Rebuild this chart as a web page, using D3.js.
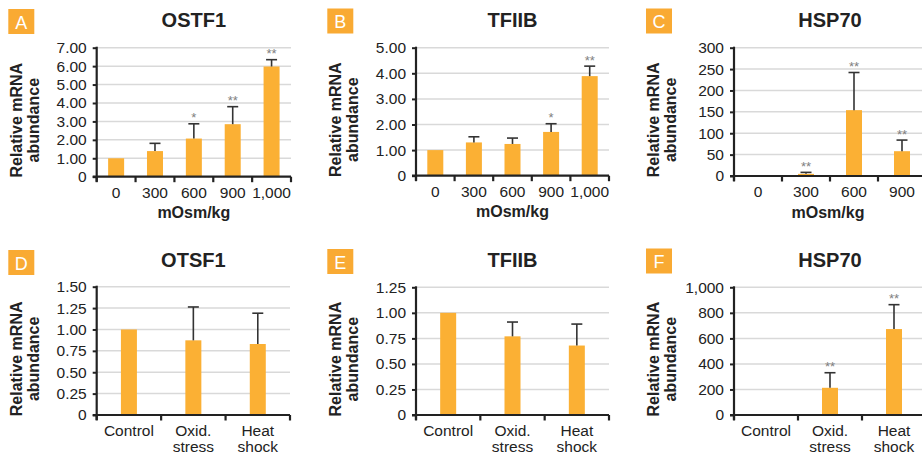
<!DOCTYPE html>
<html><head><meta charset="utf-8">
<script src="https://cdn.jsdelivr.net/npm/d3@7"></script>
<style>
body{margin:0;background:#fff;}
text{font-family:"Liberation Sans",Arial,sans-serif;}
</style></head>
<body><svg id="c" width="922" height="456"></svg>
<script>
// ---- data ----
const osmCats = ["0","300","600","900","1,000"];
const osmCatsC = ["0","300","600","900"];
const stressCats = [["Control"],["Oxid.","stress"],["Heat","shock"]];

const aValues = [1.00, 1.39, 2.07, 2.85, 5.98];
const aErrors = [0, 0.42, 0.80, 0.95, 0.37];
const aStars  = ["", "", "*", "**", "**"];

const bValues = [1.00, 1.30, 1.24, 1.71, 3.89];
const bErrors = [0, 0.22, 0.23, 0.32, 0.39];
const bStars  = ["", "", "", "*", "**"];

const cValues = [1, 5, 154, 58];
const cErrors = [0, 3.5, 88, 26];
const cStars  = ["", "**", "**", "**"];

const dValues = [1.00, 0.873, 0.83];
const dErrors = [0, 0.39, 0.36];
const dStars  = ["", "", ""];

const eValues = [1.00, 0.77, 0.68];
const eErrors = [0, 0.14, 0.21];
const eStars  = ["", "", ""];

const fValues = [1, 213, 673];
const fErrors = [0, 118, 191];
const fStars  = ["", "**", "**"];

const aTicks = [0,1,2,3,4,5,6,7];
const bTicks = [0,1,2,3,4,5];
const cTicks = [0,50,100,150,200,250,300];
const dTicks = [0,0.25,0.5,0.75,1.0,1.25,1.5];
const eTicks = [0,0.25,0.5,0.75,1.0,1.25];
const fTicks = [0,200,400,600,800,1000];

const panels = [
  {letter:"A", title:"OSTF1", cats:osmCats, vals:aValues, errs:aErrors, stars:aStars, ticks:aTicks, fmt:v=>v===0?"0":d3.format(".2f")(v), xl:"mOsm/kg", x0:96.7, x1:291, y0:176.7, y1:47.7, box:[8.3,9]},
  {letter:"B", title:"TFIIB", cats:osmCats, vals:bValues, errs:bErrors, stars:bStars, ticks:bTicks, fmt:v=>v===0?"0":d3.format(".2f")(v), xl:"mOsm/kg", x0:416, x1:609, y0:175.7, y1:47.7, box:[327.3,8.5]},
  {letter:"C", title:"HSP70", cats:osmCatsC, vals:cValues, errs:cErrors, stars:cStars, ticks:cTicks, fmt:d3.format("d"), xl:"mOsm/kg", x0:734, x1:926, y0:176, y1:47.7, box:[646,8.5]},
  {letter:"D", title:"OTSF1", cats:stressCats, vals:dValues, errs:dErrors, stars:dStars, ticks:dTicks, fmt:v=>v===0?"0":d3.format(".2f")(v), xl:null, x0:96.7, x1:290, y0:415, y1:286.7, box:[8.3,250]},
  {letter:"E", title:"TFIIB", cats:stressCats, vals:eValues, errs:eErrors, stars:eStars, ticks:eTicks, fmt:v=>v===0?"0":d3.format(".2f")(v), xl:null, x0:416, x1:609, y0:415, y1:287.3, box:[327.3,249]},
  {letter:"F", title:"HSP70", cats:stressCats, vals:fValues, errs:fErrors, stars:fStars, ticks:fTicks, fmt:d3.format(","), xl:null, x0:734, x1:926, y0:415, y1:287.3, box:[646,248.5]}
];

const svg = d3.select("#c");
const BAR = "#FBB034", BOX = "#F9AA33", INK = "#222";

panels.forEach(p => {
  const g = svg.append("g");
  const keys = p.cats.map((c,i)=>i);
  const x = d3.scaleBand().domain(keys).range([p.x0, p.x1]).padding(0);
  const y = d3.scaleLinear().domain([0, d3.max(p.ticks)]).range([p.y0, p.y1]);

  // grid
  g.selectAll("line.grid").data(p.ticks.filter(t=>t>0)).join("line")
    .attr("x1", p.x0).attr("x2", p.x1).attr("y1", d=>y(d)).attr("y2", d=>y(d))
    .attr("stroke", "#d9d9d9").attr("stroke-width", 1.5);

  // bars
  const bw = 16;
  g.selectAll("rect.bar").data(p.vals).join("rect")
    .attr("x", (d,i)=>x(i)+x.bandwidth()/2-bw/2).attr("width", bw)
    .attr("y", d=>y(d)).attr("height", d=>p.y0-y(d))
    .attr("fill", BAR);

  // error bars
  p.vals.forEach((v,i)=>{
    const e = p.errs[i];
    if (!e) return;
    const cx = x(i)+x.bandwidth()/2;
    g.append("line").attr("x1",cx).attr("x2",cx).attr("y1",y(v)).attr("y2",y(v+e))
      .attr("stroke","#333").attr("stroke-width",1.6);
    g.append("line").attr("x1",cx-5.5).attr("x2",cx+5.5).attr("y1",y(v+e)).attr("y2",y(v+e))
      .attr("stroke","#333").attr("stroke-width",1.6);
    if (p.stars[i]) {
      g.append("text").attr("x",cx).attr("y",y(v+e)-1.5).attr("text-anchor","middle")
        .attr("font-size",13).attr("fill","#808080").text(p.stars[i]);
    }
  });

  // y axis
  const ya = d3.axisLeft(y).tickValues(p.ticks).tickFormat(p.fmt).tickSize(4).tickPadding(6);
  const yg = g.append("g").attr("transform",`translate(${p.x0},0)`).call(ya);
  yg.select(".domain").remove();
  yg.selectAll(".tick line").attr("stroke",INK).attr("stroke-width",2);
  yg.selectAll(".tick text").attr("font-size",15.5).attr("fill",INK)
    .attr("font-family",'"Liberation Sans",Arial,sans-serif');
  g.append("line").attr("x1",p.x0).attr("x2",p.x0).attr("y1",p.y1-1).attr("y2",p.y0+5)
    .attr("stroke",INK).attr("stroke-width",2.2);

  // x axis
  g.append("line").attr("x1",p.x0-4).attr("x2",p.x1).attr("y1",p.y0).attr("y2",p.y0)
    .attr("stroke",INK).attr("stroke-width",2.2);
  const bounds = keys.map(i=>x(i)+x.bandwidth()).concat([p.x0]);
  g.selectAll("line.xt").data(bounds).join("line")
    .attr("x1",d=>d).attr("x2",d=>d).attr("y1",p.y0).attr("y2",p.y0+5.5)
    .attr("stroke",INK).attr("stroke-width",2.2);

  // category labels
  p.cats.forEach((c,i)=>{
    const cx = x(i)+x.bandwidth()/2;
    const lines = Array.isArray(c) ? c : [c];
    const t = g.append("text").attr("x",cx).attr("y",p.y0+21).attr("text-anchor","middle")
      .attr("font-size",15.5).attr("fill",INK);
    lines.forEach((l,k)=>t.append("tspan").attr("x",cx).attr("dy",k?16:0).text(l));
  });

  // x axis title
  if (p.xl) {
    g.append("text").attr("x",(p.x0+Math.min(p.x1,922))/2 + (p.letter==="C"?0:0)).attr("y",p.y0+41.5)
      .attr("text-anchor","middle").attr("font-size",16).attr("font-weight","bold").attr("fill",INK)
      .text(p.xl);
  }

  // y axis title
  const cy = (p.y0+p.y1)/2 + 8;
  [["Relative mRNA", p.x0-75],["abundance", p.x0-58]].forEach(([txt,bx])=>{
    g.append("text").attr("transform",`translate(${bx},${cy}) rotate(-90)`)
      .attr("text-anchor","middle").attr("font-size",16).attr("font-weight","bold").attr("fill",INK)
      .text(txt);
  });

  // title
  g.append("text").attr("x",(p.x0+p.x1)/2).attr("y",p.letter<"D"?26.7:266.5)
    .attr("text-anchor","middle").attr("font-size",20).attr("font-weight","bold").attr("fill",INK)
    .text(p.title);

  // letter box
  g.append("rect").attr("x",p.box[0]).attr("y",p.box[1]).attr("width",26).attr("height",25).attr("fill",BOX);
  g.append("text").attr("x",p.box[0]+13).attr("y",p.box[1]+19.5).attr("text-anchor","middle")
    .attr("font-size",18).attr("fill","#fff").text(p.letter);
});
</script></body></html>
